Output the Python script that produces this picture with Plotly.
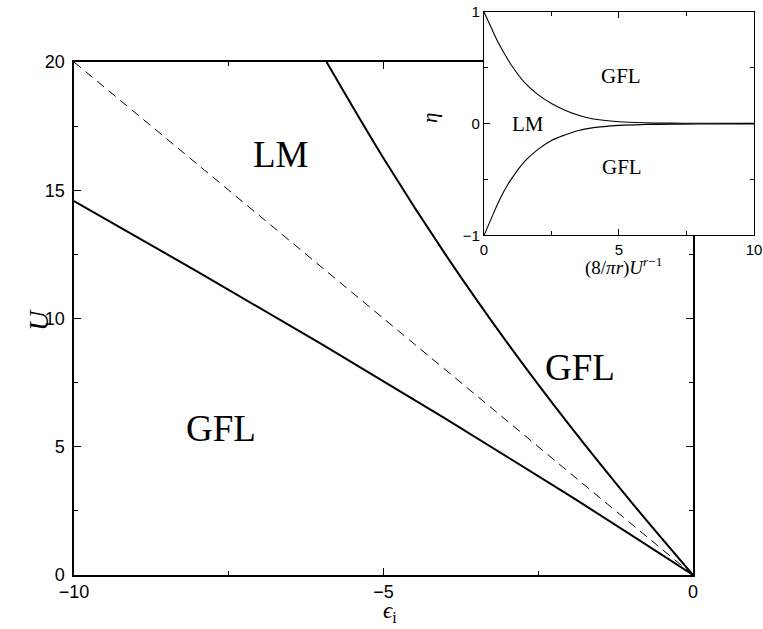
import plotly.graph_objects as go

# main phase diagram
eps_dashed = [-10, 0]
u_dashed = [20, 0]

eps_upper = [-5.92, -5, -4, -3, -2, -1, 0]
u_upper = [20, 16.25, 12.5, 9.05, 5.85, 2.85, 0]

eps_lower = [-10, -8, -6, -4, -2, 0]
u_lower = [14.58, 11.82, 9.0, 6.1, 3.1, 0]

# inset: eta versus (8/pi r) U^(r-1)
x_inset = [0, 0.25, 0.5, 0.75, 1.0, 1.5, 2.0, 2.5, 3.0, 3.5, 4.0, 5.0, 6.0, 7.0, 8.0, 10.0]
eta_upper = [1, 0.87, 0.74, 0.63, 0.53, 0.37, 0.26, 0.18, 0.12, 0.075, 0.045, 0.018, 0.008, 0.005, 0.004, 0.003]
eta_lower = [-1, -0.86, -0.72, -0.6, -0.5, -0.34, -0.23, -0.15, -0.1, -0.06, -0.037, -0.015, -0.007, -0.004, -0.003, -0.002]

x_range = [-10, 0]
y_range = [0, 20]
x2_range = [0, 10]
y2_range = [-1, 1]

SANS = "Liberation Sans, Arial, sans-serif"
SERIF = "Liberation Serif, Times New Roman, serif"

fig = go.Figure()

fig.add_trace(go.Scatter(
    x=eps_dashed, y=u_dashed, mode="lines",
    line=dict(color="black", width=1, dash="9px,6px"),
    xaxis="x", yaxis="y", showlegend=False,
))
fig.add_trace(go.Scatter(
    x=eps_upper, y=u_upper, mode="lines", line_shape="spline",
    line=dict(color="black", width=2),
    xaxis="x", yaxis="y", showlegend=False,
))
fig.add_trace(go.Scatter(
    x=eps_lower, y=u_lower, mode="lines", line_shape="spline",
    line=dict(color="black", width=2),
    xaxis="x", yaxis="y", showlegend=False,
))

# inset curves
fig.add_trace(go.Scatter(
    x=x_inset, y=eta_upper, mode="lines", line_shape="spline",
    line=dict(color="black", width=1.1),
    xaxis="x2", yaxis="y2", showlegend=False,
))
fig.add_trace(go.Scatter(
    x=x_inset, y=eta_lower, mode="lines", line_shape="spline",
    line=dict(color="black", width=1.1),
    xaxis="x2", yaxis="y2", showlegend=False,
))

axis_common = dict(
    showgrid=False, zeroline=False, showline=True, linecolor="black",
    ticks="inside", tickcolor="black", mirror="allticks", automargin=False,
)

# white background for the inset so the main frame is hidden beneath it
fig.add_shape(
    type="rect", xref="x2", yref="y2",
    x0=x2_range[0], x1=x2_range[1], y0=y2_range[0], y1=y2_range[1],
    fillcolor="white", line=dict(width=0), layer="below",
)

fig.update_layout(
    width=763, height=629,
    margin=dict(l=0, r=0, t=0, b=0),
    paper_bgcolor="white", plot_bgcolor="white",
    xaxis=dict(
        axis_common, domain=[0.0970, 0.9083], range=x_range,
        tick0=0, dtick=5, ticklen=7, linewidth=1.5, tickwidth=1.2,
        minor=dict(ticks="inside", dtick=2.5, ticklen=4, tickcolor="black"),
        tickfont=dict(family=SANS, size=18, color="black"),
        anchor="y",
    ),
    yaxis=dict(
        axis_common, domain=[0.0859, 0.9014], range=y_range,
        tick0=0, dtick=5, ticklen=7, linewidth=1.5, tickwidth=1.2,
        minor=dict(ticks="inside", dtick=2.5, ticklen=4, tickcolor="black"),
        tickfont=dict(family=SANS, size=18, color="black"),
        ticklabelstandoff=4,
        anchor="x",
    ),
    xaxis2=dict(
        axis_common, domain=[0.6343, 0.9882], range=x2_range,
        tick0=0, dtick=5, ticklen=6, linewidth=1.2, tickwidth=1,
        minor=dict(ticks="inside", dtick=2.5, ticklen=4, tickcolor="black"),
        tickfont=dict(family=SANS, size=15, color="black"),
        anchor="y2",
    ),
    yaxis2=dict(
        axis_common, domain=[0.6256, 0.9810], range=y2_range,
        tick0=0, dtick=1, ticklen=6, linewidth=1.2, tickwidth=1,
        minor=dict(ticks="inside", dtick=0.5, ticklen=4, tickcolor="black"),
        tickfont=dict(family=SANS, size=15, color="black"),
        anchor="x2",
    ),
)

# region labels, main plot
for text, x, y in [("LM", -6.66, 16.4), ("GFL", -1.83, 8.1), ("GFL", -7.62, 5.7)]:
    fig.add_annotation(
        x=x, y=y, xref="x", yref="y", text=text, showarrow=False,
        xanchor="center", yanchor="middle",
        font=dict(family=SERIF, size=37, color="black"),
    )

# region labels, inset
for text, x, y in [("GFL", 5.07, 0.43), ("GFL", 5.13, -0.39), ("LM", 1.63, 0.0)]:
    fig.add_annotation(
        x=x, y=y, xref="x2", yref="y2", text=text, showarrow=False,
        xanchor="center", yanchor="middle",
        font=dict(family=SERIF, size=21, color="black"),
    )

# axis titles (paper coordinates)
titles = [
    ("<i>ϵ</i><sub>i</sub>", 390, 612, 0, 23),
    ("<i>U</i>", 38, 320, -90, 28),
    ("(8/<i>πr</i>)<i>U</i><sup><i>r</i>−1</sup>", 623, 266, 0, 19),
    ("<i>η</i>", 430, 118, -90, 21),
]
for text, px, py, angle, size in titles:
    fig.add_annotation(
        x=px / 763, y=1 - py / 629, xref="paper", yref="paper",
        text=text, showarrow=False, textangle=angle,
        xanchor="center", yanchor="middle",
        font=dict(family=SERIF, size=size, color="black"),
    )

fig.write_html(
    "out.html",
    config={"displayModeBar": False},
    post_script="document.body.style.margin='0';",
)
